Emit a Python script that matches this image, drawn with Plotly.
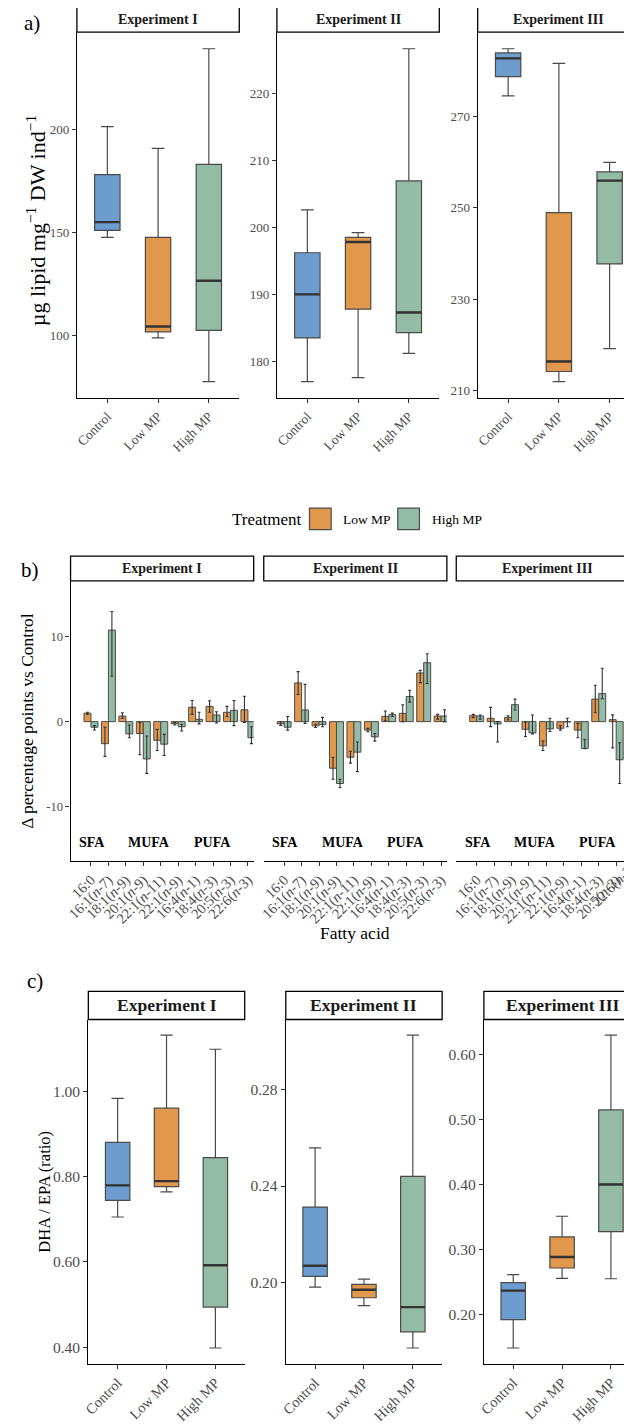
import plotly.graph_objects as go

# page is 632x1424; the html body adds an 8px margin, so the figure itself is 624x1416
PAGE_W, PAGE_H = 632, 1424
OFF = 8
W, H = PAGE_W - OFF, PAGE_H - OFF
FONT = "Liberation Serif, Times New Roman, serif"
TICK_GREY = "#4D4D4D"
EDGE = "#4A4A4A"

# ---------------- data ----------------
treatments = ["Control", "Low MP", "High MP"]
experiments = ["Experiment I", "Experiment II", "Experiment III"]

# a) lipid content (µg lipid mg-1 DW ind-1); rows = experiments, cols = treatments
lipid_lower = [[147.7, 99.0, 77.8], [177.0, 177.6, 181.2], [274.4, 212.0, 219.2]]
lipid_q1 = [[151.1, 101.9, 102.6], [183.5, 187.8, 184.3], [278.6, 214.2, 237.7]]
lipid_median = [[155.1, 104.5, 126.7], [190.0, 197.8, 187.3], [282.6, 216.4, 255.9]]
lipid_q3 = [[178.1, 147.7, 183.1], [196.2, 198.5, 206.9], [283.8, 248.9, 257.8]]
lipid_upper = [[201.4, 190.8, 239.1], [202.6, 199.2, 226.6], [284.7, 281.5, 259.9]]
lipid_ticks = [[100, 150, 200], [180, 190, 200, 210, 220], [210, 230, 250, 270]]

# b) change in fatty acid composition vs control (percentage points)
fatty_acids = ["16:0", "16:1(n-7)", "18:1(n-9)", "20:1(n-9)", "22:1(n-11)",
               "22:1(n-9)", "16:4(n-1)", "18:4(n-3)", "20:5(n-3)", "22:6(n-3)"]
fa_classes = ["SFA", "MUFA", "PUFA"]
bar_treatments = ["Low MP", "High MP"]
low_mean = [[1.0, -2.6, 0.66, -1.4, -2.2, -0.25, 1.7, 1.8, 1.1, 1.4],
            [-0.27, 4.57, -0.5, -5.5, -4.2, -1.0, 0.62, 0.98, 5.74, 0.66],
            [0.7, 0.39, 0.5, -0.9, -2.85, -0.78, -1.0, 2.66, 0.23, 1.56]]
low_lo = [[0.85, -4.1, 0.4, -3.9, -3.4, -0.4, 0.86, 1.1, 0.6, -0.1],
          [-0.45, 3.2, -0.7, -6.8, -4.9, -1.2, 0.1, 0.0, 4.6, 0.3],
          [0.47, -0.59, 0.2, -1.76, -3.4, -1.0, -1.9, 1.05, -3.1, 1.3]]
low_hi = [[1.1, -0.66, 1.05, -0.1, -0.9, -0.1, 2.5, 2.46, 1.8, 3.0],
          [-0.05, 5.9, -0.3, -4.2, -3.5, -0.8, 1.25, 2.0, 6.05, 0.86],
          [0.86, 1.68, 0.7, -0.05, -2.3, -0.47, -0.2, 4.3, 0.8, 1.8]]
high_mean = [[-0.66, 10.8, -1.45, -4.4, -2.66, -0.6, 0.27, 0.78, 1.33, -1.9],
             [-0.66, 1.37, -0.35, -7.3, -3.6, -1.8, 0.82, 2.97, 6.95, 0.66],
             [0.66, -0.27, 2.0, -1.33, -0.86, -0.04, -3.16, 3.3, -4.5, 1.0]]
high_lo = [[-0.98, 5.35, -1.9, -6.1, -4.0, -1.1, -0.27, -0.16, -0.47, -2.6],
           [-1.0, -0.2, -0.6, -7.8, -5.9, -2.3, 0.6, 2.3, 4.5, 0.0],
           [0.3, -2.4, 1.37, -1.45, -1.17, -0.6, -3.2, 2.7, -7.3, 0.5]]
high_hi = [[-0.47, 13.0, -0.4, -1.7, -1.5, -0.3, 1.1, 1.17, 2.5, -0.6],
           [0.6, 4.4, 0.5, -6.8, -2.4, -1.4, 1.0, 3.7, 8.0, 1.4],
           [0.78, 0.0, 2.66, 0.78, 0.4, 0.4, -2.1, 6.3, -2.5, 1.5]]
delta_ticks = [-10, 0, 10]
delta_range = [-16.4, 16.6]

# c) DHA / EPA ratio
ratio_lower = [[0.705, 0.764, 0.398], [0.1982, 0.1905, 0.173], [0.149, 0.256, 0.2555]]
ratio_q1 = [[0.744, 0.776, 0.494], [0.2026, 0.1938, 0.1797], [0.1928, 0.272, 0.328]]
ratio_median = [[0.779, 0.789, 0.592], [0.207, 0.1971, 0.1899], [0.2372, 0.289, 0.4005]]
ratio_q3 = [[0.880, 0.960, 0.844], [0.2313, 0.1993, 0.244], [0.2495, 0.320, 0.515]]
ratio_upper = [[0.983, 1.131, 1.098], [0.2558, 0.2015, 0.3024], [0.2618, 0.3516, 0.630]]
ratio_ticks = [[0.4, 0.6, 0.8, 1.0], [0.20, 0.24, 0.28], [0.2, 0.3, 0.4, 0.5, 0.6]]

# ---------------- style / layout ----------------
fill = {"Control": "#6D9DCF", "Low MP": "#E1974C", "High MP": "#94BBA5"}

PANELS = {
    "a": dict(lefts=[71.7, 274.3, 477.7], width=164.5, top=32.3, bottom=401,
              strip_top=7.3, xr=(-0.6, 2.6), strip_size=14, ytick_size=13, xtick_size=13.5),
    "b": dict(lefts=[65.3, 261, 456], width=185.5, top=585, bottom=866.7,
              strip_top=560, xr=(-1.17, 9.33), strip_size=14, ytick_size=12.5, xtick_size=14.5),
    "c": dict(lefts=[83.3, 283.3, 484], width=158.4, top=1026.7, bottom=1373.3,
              strip_top=998.3, xr=(-0.6, 2.6), strip_size=17.5, ytick_size=15.5, xtick_size=14.5),
}
class_label_pos = [0.05, 3.35, 6.95]
class_label_y = -14.3


def px(v):
    return (v - OFF) / W


def py(v):
    return 1 - (v - OFF) / H


fig = go.Figure()
layout = {}
shapes = []
annotations = []


def ids(k):
    xs = "x" if k == 1 else f"x{k}"
    ys = "y" if k == 1 else f"y{k}"
    return xs, ys, "xaxis" + ("" if k == 1 else str(k)), "yaxis" + ("" if k == 1 else str(k))


def make_axes(key, j, k, yrange, yticks, yticktext, xtickvals, xticktext, show_y=True):
    p = PANELS[key]
    left = p["lefts"][j]
    right = left + p["width"]
    vis_right = min(right, PAGE_W)
    xr0, xr1 = p["xr"]
    unit = p["width"] / (xr1 - xr0)
    xr1_vis = xr0 + (vis_right - left) / unit
    xs, ys, xa, ya = ids(k)
    layout[xa] = dict(
        domain=[px(left), px(vis_right)], range=[xr0, xr1_vis], anchor=ys,
        showline=True, linecolor="black", linewidth=1.3, ticks="outside",
        ticklen=4, tickwidth=1, tickcolor="#333333", tickvals=xtickvals,
        ticktext=xticktext, tickangle=-45, showgrid=False, zeroline=False,
        tickfont=dict(family=FONT, size=p["xtick_size"], color=TICK_GREY),
    )
    layout[ya] = dict(
        domain=[py(p["bottom"]), py(p["top"])], range=yrange, anchor=xs,
        showline=show_y, linecolor="black", linewidth=1.3,
        ticks="outside" if show_y else "", ticklen=4, tickwidth=1,
        tickcolor="#333333", tickvals=yticks, ticktext=yticktext,
        showticklabels=show_y, showgrid=False, zeroline=False,
        tickfont=dict(family=FONT, size=p["ytick_size"], color=TICK_GREY),
    )
    # tick labels whose tick falls just past the page edge: the visible part of the label
    for v, txt in zip(xtickvals, xticktext):
        if v > xr1_vis:
            tick_px = left + (v - xr0) * unit
            half = 0.5 * 3.8 * p["xtick_size"] * 0.7071
            annotations.append(dict(xref="paper", yref="paper",
                                    x=px(tick_px - half), y=py(p["bottom"] + 5 + half),
                                    text=txt, textangle=-45, showarrow=False,
                                    xanchor="center", yanchor="middle",
                                    font=dict(family=FONT, size=p["xtick_size"], color=TICK_GREY)))
    # strip
    shapes.append(dict(type="rect", xref="paper", yref="paper",
                       x0=px(left), x1=px(right), y0=py(p["top"]), y1=py(p["strip_top"]),
                       line=dict(color="black", width=1.3), fillcolor="white", layer="above"))
    annotations.append(dict(xref="paper", yref="paper", x=px(left + p["width"] / 2),
                            y=py((p["top"] + p["strip_top"]) / 2), text=f"<b>{experiments[j]}</b>",
                            showarrow=False, xanchor="center", yanchor="middle",
                            font=dict(family=FONT, size=p["strip_size"], color="#1A1A1A")))
    return xs, ys


def box_row(key, row, lower, q1, med, q3, upper, ticks, fmt):
    for j in range(3):
        k = row * 3 + j + 1
        lo_all = min(lower[j])
        hi_all = max(upper[j])
        pad = 0.05 * (hi_all - lo_all)
        xs, ys = make_axes(key, j, k, [lo_all - pad, hi_all + pad], ticks[j],
                           [format(v, fmt) for v in ticks[j]],
                           list(range(len(treatments))), treatments)
        mx, my = [], []
        for i, t in enumerate(treatments):
            fig.add_trace(go.Box(
                x=[i], q1=[q1[j][i]], median=[med[j][i]], q3=[q3[j][i]],
                lowerfence=[lower[j][i]], upperfence=[upper[j][i]],
                width=0.5, whiskerwidth=0.5, fillcolor=fill[t],
                line=dict(color=EDGE, width=1.2), boxpoints=False,
                xaxis=xs, yaxis=ys, showlegend=False, hoverinfo="skip"))
            mx += [i - 0.25, i + 0.25, None]
            my += [med[j][i], med[j][i], None]
        fig.add_trace(go.Scatter(x=mx, y=my, mode="lines", xaxis=xs, yaxis=ys,
                                 line=dict(color="#333333", width=2.4),
                                 showlegend=False, hoverinfo="skip"))


# a)
box_row("a", 0, lipid_lower, lipid_q1, lipid_median, lipid_q3, lipid_upper, lipid_ticks, "d")

# b)
fa_ticktext = [f.replace("n-", "<i>n</i>-") for f in fatty_acids]
bar_data = {"Low MP": (low_mean, low_lo, low_hi), "High MP": (high_mean, high_lo, high_hi)}
for j in range(3):
    k = 3 + j + 1
    xs, ys = make_axes("b", j, k, delta_range, delta_ticks, [str(v) for v in delta_ticks],
                       list(range(len(fatty_acids))), fa_ticktext, show_y=(j == 0))
    for t in bar_treatments:
        mean, lo, hi = bar_data[t]
        fig.add_trace(go.Bar(
            x=list(range(len(fatty_acids))), y=mean[j],
            error_y=dict(type="data", symmetric=False,
                         array=[h - m for h, m in zip(hi[j], mean[j])],
                         arrayminus=[m - l for m, l in zip(mean[j], lo[j])],
                         color="#333333", thickness=1.1, width=1.5),
            marker=dict(color=fill[t], line=dict(color=EDGE, width=1.0)),
            xaxis=xs, yaxis=ys, showlegend=False, hoverinfo="skip"))
    for c, pos in zip(fa_classes, class_label_pos):
        annotations.append(dict(xref=xs, yref=ys, x=pos, y=class_label_y, text=f"<b>{c}</b>",
                                showarrow=False, xanchor="center", yanchor="middle",
                                font=dict(family=FONT, size=14, color="black")))

# c)
box_row("c", 2, ratio_lower, ratio_q1, ratio_median, ratio_q3, ratio_upper, ratio_ticks, ".2f")


# ---------------- titles, labels, legend ----------------
def label(x, y, text, size, angle=0, anchor="center", color="black"):
    annotations.append(dict(xref="paper", yref="paper", x=px(x), y=py(y), text=text,
                            showarrow=False, xanchor=anchor, yanchor="middle", textangle=angle,
                            font=dict(family=FONT, size=size, color=color)))


label(26, 23, "a)", 21)
label(24, 574, "b)", 21)
label(29, 988, "c)", 21)
label(31, 222, "µg lipid mg<sup>−1</sup> DW ind<sup>−1</sup>", 22, angle=-90)
label(21, 726, "Δ percentage points vs Control", 17.5, angle=-90)
label(38.5, 1200, "DHA / EPA (ratio)", 16.5, angle=-90)
label(353, 940, "Fatty acid", 17.5)

# legend (drawn manually)
label(227.3, 522.7, "Treatment", 17, anchor="left")
sw_lefts = [307.3, 396.7]
txt_lefts = [339.3, 429.3]
for t, sl, tl in zip(bar_treatments, sw_lefts, txt_lefts):
    shapes.append(dict(type="rect", xref="paper", yref="paper", x0=px(sl), x1=px(sl + 22),
                       y0=py(533.3), y1=py(511.7), fillcolor=fill[t],
                       line=dict(color=EDGE, width=1.2)))
    label(tl, 522.7, t, 13.5, anchor="left")

fig.update_layout(
    width=W, height=H, autosize=False,
    margin=dict(l=0, r=0, t=0, b=0, pad=0),
    paper_bgcolor="white", plot_bgcolor="white",
    font=dict(family=FONT, color="black"),
    showlegend=False, barmode="group", bargap=0.2, bargroupgap=0.0,
    boxmode="overlay",
    shapes=shapes, annotations=annotations,
    **layout,
)

fig.write_html("out.html")
